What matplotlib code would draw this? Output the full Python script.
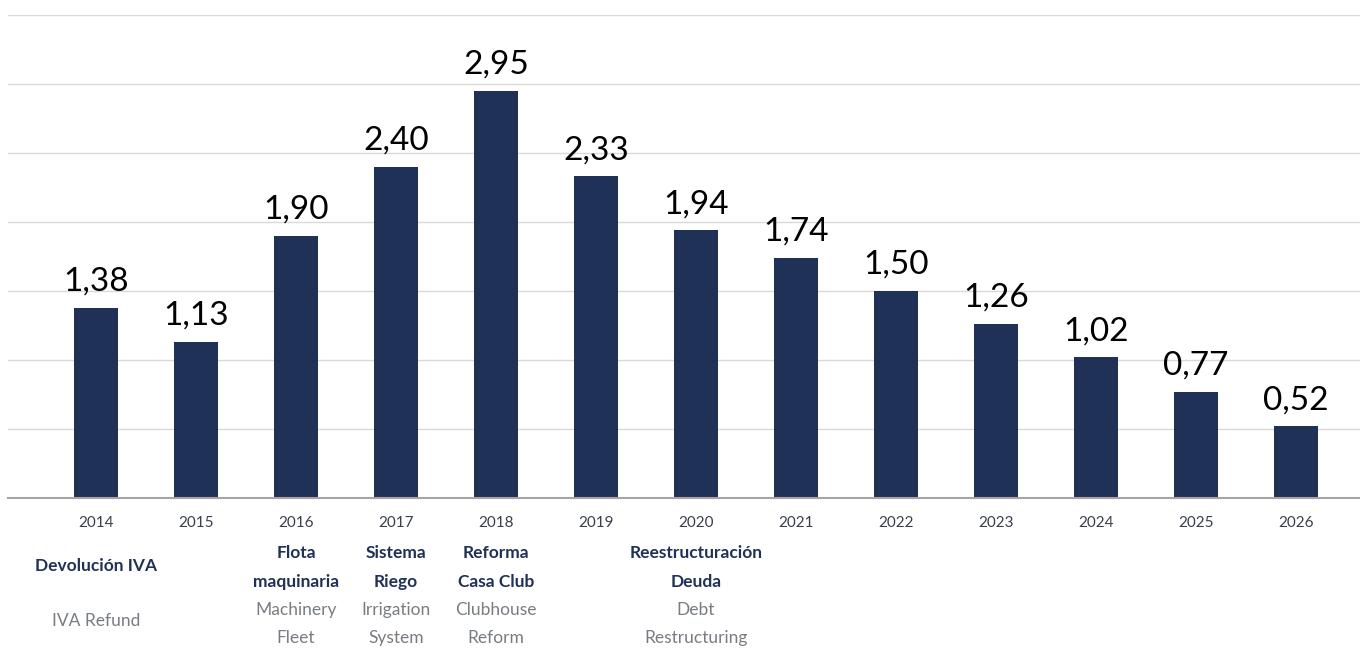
import matplotlib

matplotlib.use("Agg")

import matplotlib.pyplot as plt
import matplotlib.transforms as mtransforms
import numpy as np


YEARS = ["2014", "2015", "2016", "2017", "2018", "2019", "2020",
         "2021", "2022", "2023", "2024", "2025", "2026"]
VALUES = [1.38, 1.13, 1.90, 2.40, 2.95, 2.33, 1.94, 1.74, 1.50, 1.26, 1.02, 0.77, 0.52]

# milestone notes: (year index, spanish lines, english lines)
NOTES = [
    (0, ["Devolución IVA"], ["IVA Refund"]),
    (2, ["Flota", "maquinaria"], ["Machinery", "Fleet"]),
    (3, ["Sistema", "Riego"], ["Irrigation", "System"]),
    (4, ["Reforma", "Casa Club"], ["Clubhouse", "Reform"]),
    (6, ["Reestructuración", "Deuda"], ["Debt", "Restructuring"]),
]

NAVY = "#1f3157"
GREY = "#777d82"
W, H = 1360, 651

plt.rcParams["font.family"] = ["Lato", "DejaVu Sans"]

fig = plt.figure(figsize=(W / 100, H / 100), dpi=100)
ax = fig.add_axes([8 / W, (H - 498) / H, 1 - 8 / W, (498 - 15) / H])

x = np.arange(len(YEARS))
ax.bar(x, VALUES, width=0.44, color=NAVY, zorder=3)
for xi, v in zip(x, VALUES):
    ax.annotate(f"{v:.2f}".replace(".", ","), (xi, v), xytext=(0, 8),
                textcoords="offset points", ha="center", va="bottom",
                fontsize=24, color="black")

ax.set_xlim(-0.88, 12.64)
ax.set_ylim(0, 3.5)
ax.set_yticks(np.arange(0.5, 3.51, 0.5))
ax.yaxis.grid(True, color="#d9d9d9", linewidth=1.0, zorder=0)
ax.tick_params(left=False, labelleft=False, bottom=False, labelbottom=False)
for side in ["top", "right", "left"]:
    ax.spines[side].set_visible(False)
ax.spines["bottom"].set_color("#aaa3a6")
ax.spines["bottom"].set_linewidth(1.5)
ax.spines["bottom"].set_zorder(4)

trans = mtransforms.blended_transform_factory(ax.transData, fig.transFigure)


def fy(py):
    return 1 - py / H


for xi, yr in zip(x, YEARS):
    ax.text(xi, fy(523), yr, transform=trans, ha="center", va="center",
            fontsize=11, color="#3a3f4c")

for idx, es, en in NOTES:
    if len(es) == 1:
        ax.text(idx, fy(566), es[0], transform=trans, ha="center", va="center",
                fontsize=12.5, fontweight="bold", color=NAVY)
        ax.text(idx, fy(621), en[0], transform=trans, ha="center", va="center",
                fontsize=12.5, color=GREY)
        continue
    for k, line in enumerate(es):
        ax.text(idx, fy(553 + 29 * k), line, transform=trans, ha="center",
                va="center", fontsize=12.5, fontweight="bold", color=NAVY)
    for k, line in enumerate(en):
        ax.text(idx, fy(610 + 28 * k), line, transform=trans, ha="center",
                va="center", fontsize=12.5, color=GREY)

fig.savefig("out.png", dpi=100)
